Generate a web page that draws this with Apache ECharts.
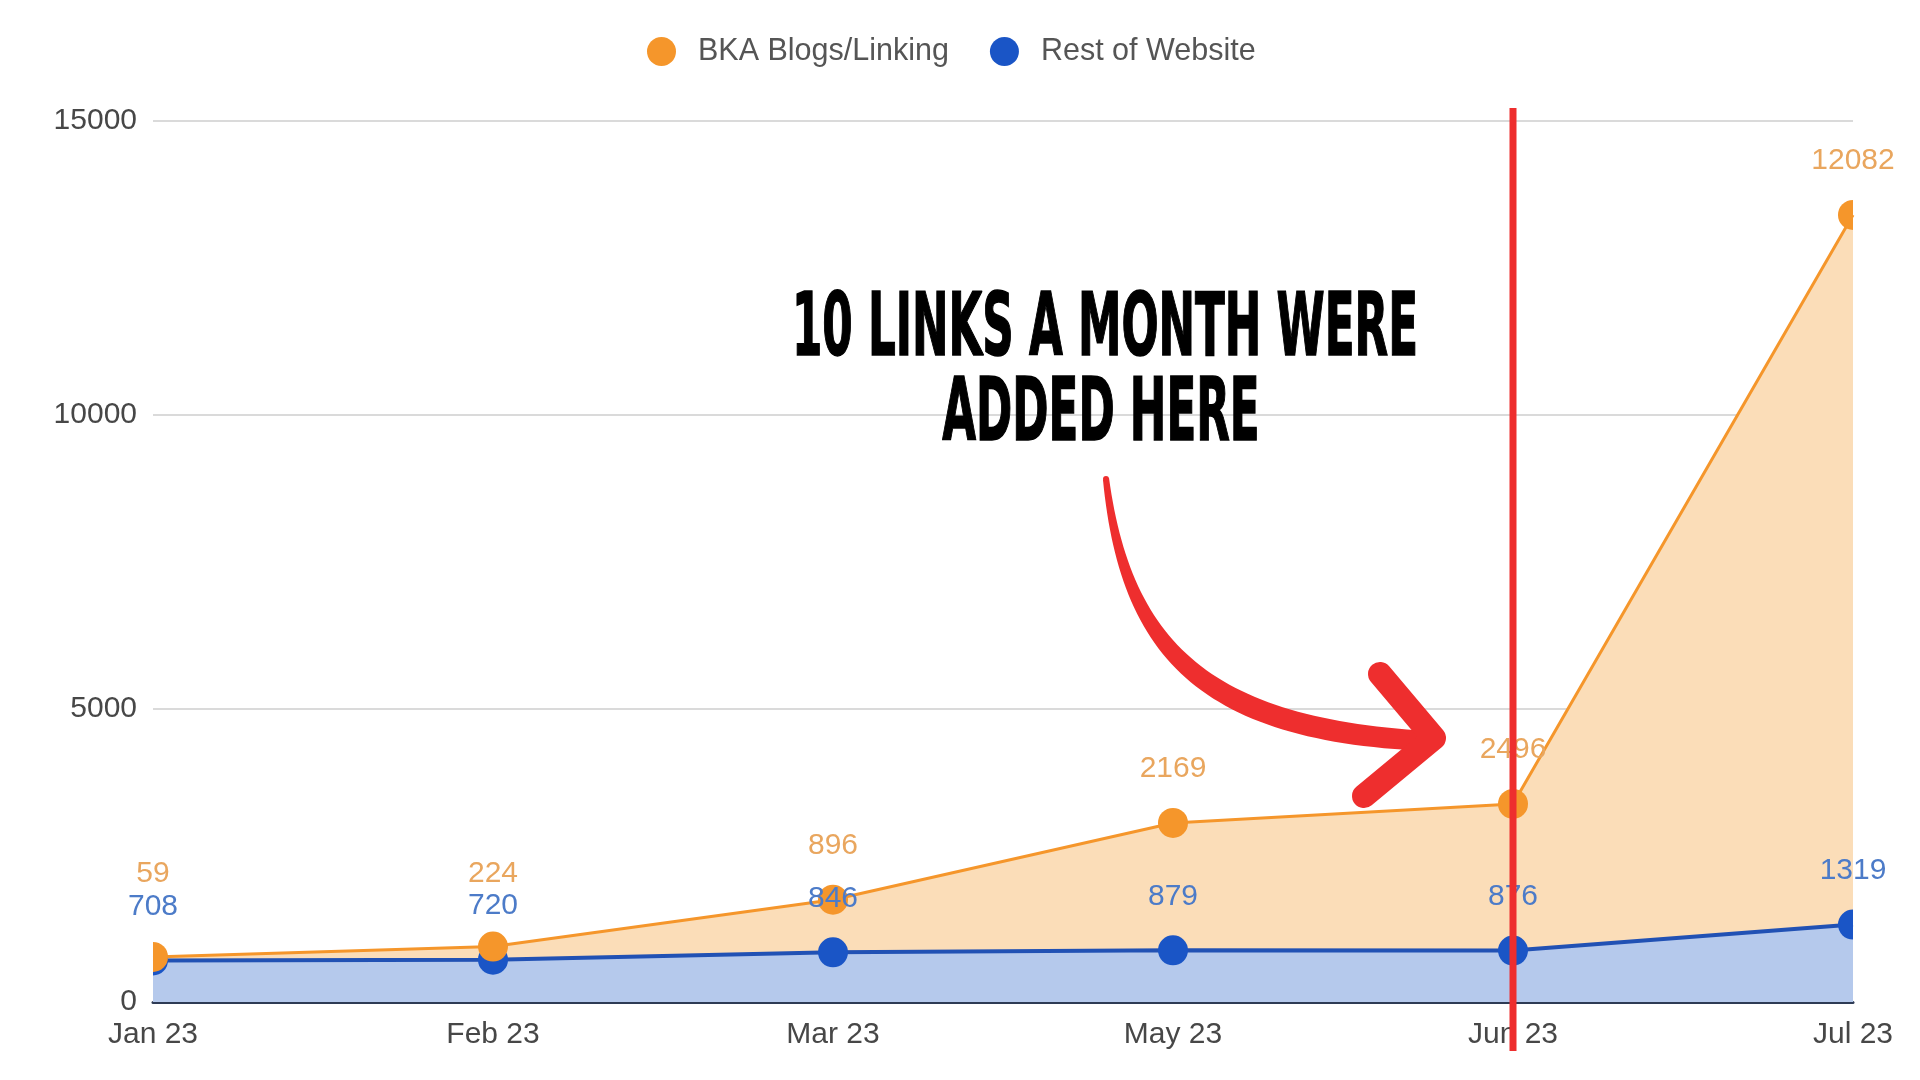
<!DOCTYPE html>
<html><head><meta charset="utf-8">
<script src="https://cdn.jsdelivr.net/npm/echarts@6/dist/echarts.min.js"></script>
<style>html,body{margin:0;padding:0;background:#fff}#c{width:1920px;height:1080px}</style>
</head><body><div id="c"></div>
<script>
// ---- data ----
const categories = ['Jan 23', 'Feb 23', 'Mar 23', 'May 23', 'Jun 23', 'Jul 23'];
const bkaBlogs = [59, 224, 896, 2169, 2496, 12082];
const restOfWebsite = [708, 720, 846, 879, 876, 1319];
const yTicks = [0, 5000, 10000, 15000];
const seriesNames = ['BKA Blogs/Linking', 'Rest of Website'];
const annotationLines = ['10 LINKS A MONTH WERE', 'ADDED HERE'];
const markedMonth = 'Jun 23';

// ---- styles ----
const FONT = '"Liberation Sans", Arial, sans-serif';
const ORANGE = '#F5962B', ORANGE_AREA = '#FBDDB8', ORANGE_LABEL = '#E9A65E';
const BLUE = '#1A55C6', BLUE_LINE = '#2151B4', BLUE_AREA = '#B5C9EC', BLUE_LABEL = '#4C7BC8';
const RED = '#EE2E2E';
const SYM = 30;
// half-dot symbols at the plot edges (the reference clips them at the grid border)
const RIGHT_HALF = 'path://M0 0A10 10 0 0 1 0 20Z';
const LEFT_HALF = 'path://M10 0A10 10 0 0 0 10 20Z';

function buildData(values, labelDistances) {
  const last = values.length - 1;
  return values.map((v, i) => {
    const item = {value: v, label: {}};
    if (labelDistances && labelDistances[i] != null) item.label.distance = labelDistances[i];
    if (i === 0) {
      Object.assign(item, {symbol: RIGHT_HALF, symbolSize: [SYM / 2, SYM], symbolOffset: [SYM / 4, 0], symbolKeepAspect: false});
      item.label.offset = [-SYM / 4, 0];
    } else if (i === last) {
      Object.assign(item, {symbol: LEFT_HALF, symbolSize: [SYM / 2, SYM], symbolOffset: [-SYM / 4, 0], symbolKeepAspect: false});
      item.label.offset = [SYM / 4, 0];
    }
    return item;
  });
}

const chart = echarts.init(document.getElementById('c'), null, {renderer: 'canvas'});

const option = {
  animation: false,
  backgroundColor: '#ffffff',
  legend: {
    data: seriesNames,
    left: 642, top: 31,
    icon: 'circle', itemWidth: 29, itemHeight: 29, itemGap: 41,
    textStyle: {fontFamily: FONT, fontSize: 30.5, color: '#555555', padding: [0, 0, 0, 17]}
  },
  grid: {left: 153, right: 67, top: 121, bottom: 78, containLabel: false},
  xAxis: {
    type: 'category', data: categories, boundaryGap: false,
    axisLine: {show: true, lineStyle: {color: '#2E3B55', width: 3}},
    axisTick: {show: false},
    axisLabel: {fontFamily: FONT, fontSize: 30, color: '#474747', margin: 18},
    splitLine: {show: false}
  },
  yAxis: {
    type: 'value', min: yTicks[0], max: yTicks[yTicks.length - 1],
    interval: yTicks[1] - yTicks[0],
    axisLine: {show: false}, axisTick: {show: false},
    axisLabel: {fontFamily: FONT, fontSize: 30, color: '#474747', margin: 16, formatter: v => String(v)},
    splitLine: {lineStyle: {color: '#DADADA', width: 2}}
  },
  series: [
    {
      name: seriesNames[1], type: 'line', stack: 'total', data: buildData(restOfWebsite),
      symbol: 'circle', symbolSize: SYM, clip: false,
      itemStyle: {color: BLUE},
      lineStyle: {color: BLUE_LINE, width: 4},
      areaStyle: {color: BLUE_AREA, opacity: 1},
      label: {show: true, position: 'top', distance: 24, fontFamily: FONT, fontSize: 30, color: BLUE_LABEL},
      z: 2
    },
    {
      name: seriesNames[0], type: 'line', stack: 'total',
      data: buildData(bkaBlogs, [53, 43]),
      symbol: 'circle', symbolSize: SYM, clip: false,
      itemStyle: {color: ORANGE},
      lineStyle: {color: ORANGE, width: 3},
      areaStyle: {color: ORANGE_AREA, opacity: 1},
      label: {show: true, position: 'top', distance: 24, fontFamily: FONT, fontSize: 30, color: ORANGE_LABEL},
      z: 2
    }
  ]
};
chart.setOption(option);

// ---- annotations ----
const ANN_FONT = '"DejaVu Sans Condensed", "DejaVu Sans", sans-serif';
const ctx = document.createElement('canvas').getContext('2d');
ctx.font = 'bold 88px ' + ANN_FONT;
const w1 = ctx.measureText(annotationLines[0]).width;
const sx = 626 / w1;

function bez(p0, p1, p2, p3, n) {
  const pts = [];
  for (let i = 0; i <= n; i++) {
    const t = i / n, u = 1 - t;
    pts.push([
      u*u*u*p0[0] + 3*u*u*t*p1[0] + 3*u*t*t*p2[0] + t*t*t*p3[0],
      u*u*u*p0[1] + 3*u*u*t*p1[1] + 3*u*t*t*p2[1] + t*t*t*p3[1]
    ]);
  }
  return pts;
}
const arrowBody = bez([1109, 478], [1132, 645], [1212, 718], [1428, 731], 60)
  .concat(bez([1428, 751], [1198, 742], [1120, 655], [1103, 480], 60));

const junX = chart.convertToPixel({xAxisIndex: 0}, markedMonth);

chart.setOption({
  graphic: [
    {
      type: 'text', z: 100, x: 1105, y: 332, scaleX: sx,
      style: {text: annotationLines[0], font: 'bold 88px ' + ANN_FONT, fill: '#000',
              align: 'center', verticalAlign: 'middle', stroke: '#000', lineWidth: 1.5}
    },
    {
      type: 'text', z: 100, x: 1101, y: 417, scaleX: sx,
      style: {text: annotationLines[1], font: 'bold 88px ' + ANN_FONT, fill: '#000',
              align: 'center', verticalAlign: 'middle', stroke: '#000', lineWidth: 1.5}
    },
    {
      type: 'polygon', z: 100, silent: true,
      shape: {points: arrowBody},
      style: {fill: RED}
    },
    {
      type: 'circle', z: 100, silent: true,
      shape: {cx: 1106, cy: 479, r: 3},
      style: {fill: RED}
    },
    {
      type: 'polyline', z: 100, silent: true,
      shape: {points: [[1380, 674], [1434, 738], [1364, 796]]},
      style: {stroke: RED, lineWidth: 24, lineCap: 'round', lineJoin: 'round', fill: null}
    },
    {
      type: 'line', z: 101, silent: true,
      shape: {x1: junX, y1: 108, x2: junX, y2: 1051},
      style: {stroke: RED, lineWidth: 7}
    }
  ]
});
</script>
</body></html>
